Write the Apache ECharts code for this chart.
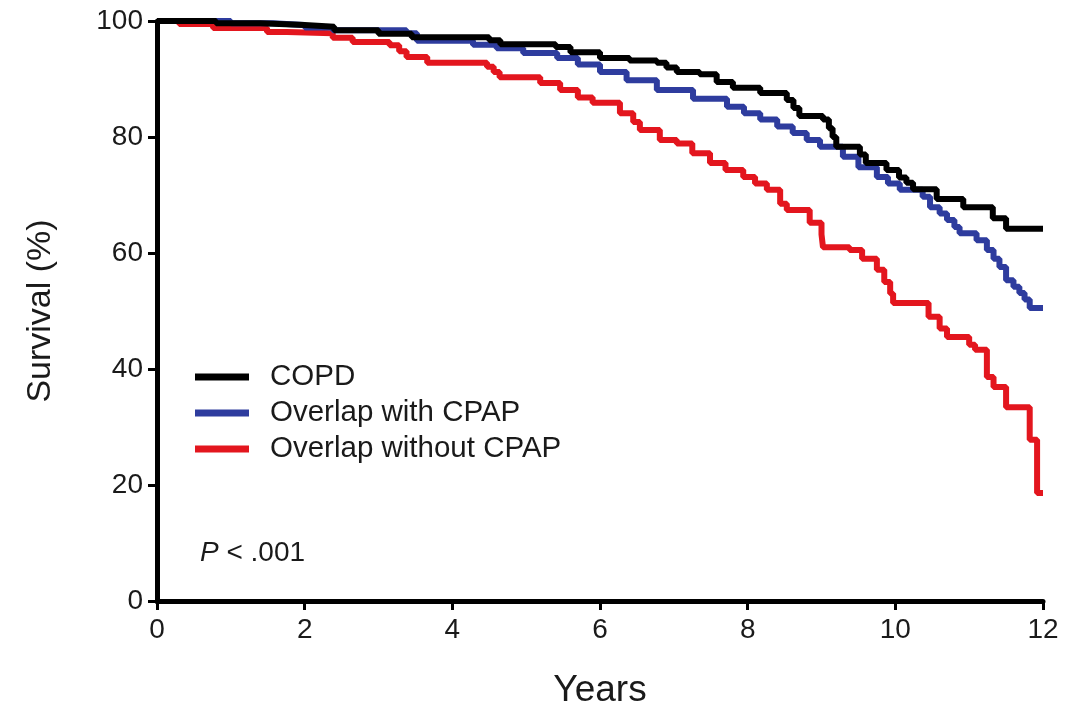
<!DOCTYPE html>
<html>
<head>
<meta charset="utf-8">
<script src="https://cdn.jsdelivr.net/npm/echarts@6/dist/echarts.min.js"></script>
<style>
html,body{margin:0;padding:0;background:#fff;}
#chart{width:1065px;height:707px;}
</style>
</head>
<body>
<div id="chart"></div>
<script>
// ---- Data ----
const seriesNames = ['COPD', 'Overlap with CPAP', 'Overlap without CPAP'];
const xTicks = [0, 2, 4, 6, 8, 10, 12];
const yTicks = [0, 20, 40, 60, 80, 100];

// [years, survival %] — Kaplan–Meier step points (drop happens at given time)
const copd = [
  [0,100],[0.8,99.6],[1.4,99.3],[2.0,99.0],[2.4,98.4],[3.0,97.8],[3.45,97.2],
  [4.5,96.7],[4.65,96.0],[5.4,95.5],[5.6,94.6],[6.0,93.6],[6.4,93.2],[6.77,92.8],
  [6.9,92.0],[7.04,91.2],[7.35,90.8],[7.58,89.5],[7.8,88.5],[8.17,87.6],[8.53,86.4],
  [8.62,85.0],[8.7,83.6],[9.02,83.0],[9.1,81.5],[9.15,80.0],[9.2,78.3],[9.52,77.0],[9.6,75.5],
  [9.88,74.3],[10.05,73.0],[10.15,72.1],[10.24,71.0],[10.56,69.3],[10.92,67.9],
  [11.32,66.0],[11.5,64.2],[12,64.2]
];
const overlapCpap = [
  [0,100],[1.0,99.6],[1.57,99.3],[2.0,98.9],[2.38,98.4],[3.38,97.9],[3.52,96.6],
  [4.28,95.9],[4.6,95.3],[4.96,94.5],[5.42,93.6],[5.7,92.5],[6.0,91.2],[6.36,89.8],
  [6.77,88.1],[7.26,86.6],[7.72,85.2],[7.95,84.1],[8.17,83.0],[8.4,81.8],[8.61,80.7],
  [8.8,79.5],[8.98,78.3],[9.29,76.6],[9.5,74.8],[9.75,73.1],[9.9,72.0],[10.06,70.9],
  [10.37,69.7],[10.47,67.9],[10.6,66.8],[10.7,65.7],[10.8,64.5],[10.87,63.4],[11.1,62.2],
  [11.24,60.5],[11.33,59.0],[11.41,57.6],[11.5,55.3],[11.6,54.2],[11.68,53.1],[11.75,52.0],
  [11.82,50.5],[12,50.5]
];
const overlapNoCpap = [
  [0,100],[0.3,99.5],[0.76,98.8],[1.49,98.1],[1.76,97.9],[2.38,97.1],[2.65,96.4],
  [3.15,95.8],[3.28,94.8],[3.38,93.8],[3.66,92.8],[4.47,92.1],[4.56,91.2],[4.64,90.3],
  [5.19,89.3],[5.46,88.1],[5.7,86.8],[5.9,85.9],[6.27,84.1],[6.45,82.6],[6.54,81.2],
  [6.81,79.5],[7.04,78.9],[7.25,77.2],[7.49,75.5],[7.7,74.3],[7.94,73.1],[8.1,72.0],
  [8.26,70.9],[8.44,68.5],[8.53,67.4],[8.84,65.2],[9.0,63.2],[9.02,61.0],[9.38,60.5],
  [9.55,59.0],[9.75,57.1],[9.85,55.0],[9.93,53.0],[9.97,51.4],[10.45,49.0],
  [10.6,47.0],[10.7,45.5],[11.0,44.2],[11.08,43.3],[11.24,38.6],[11.33,36.9],
  [11.5,33.4],[11.82,27.8],[11.92,18.6],[12,18.6]
];
const seriesData = [copd, overlapCpap, overlapNoCpap];
const colors = ['#000000', '#2E3C9E', '#E3161E'];

const font = '"Liberation Sans", Arial, Helvetica, sans-serif';
const chart = echarts.init(document.getElementById('chart'), null, {renderer: 'canvas'});

const option = {
  animation: false,
  backgroundColor: '#ffffff',
  color: colors,
  grid: {left: 157, right: 22, top: 21, bottom: 106, containLabel: false, outerBoundsMode: 'none'},
  legend: {
    orient: 'vertical',
    left: 195,
    top: 361,
    padding: 0,
    icon: 'rect',
    itemWidth: 54,
    itemHeight: 7,
    itemGap: 4,
    data: seriesNames,
    textStyle: {fontFamily: font, fontSize: 29.5, color: '#1a1a1a', lineHeight: 32, padding: [0, 0, 0, 16]}
  },
  xAxis: {
    type: 'value',
    min: 0, max: 12, interval: 2,
    name: 'Years',
    nameLocation: 'middle',
    nameGap: 71,
    nameTextStyle: {fontFamily: font, fontSize: 37, color: '#1a1a1a'},
    axisLine: {show: true, onZero: false, lineStyle: {color: '#000', width: 5}},
    axisTick: {show: true, length: 9, lineStyle: {color: '#000', width: 3}},
    axisLabel: {fontFamily: font, fontSize: 28, color: '#1a1a1a', margin: 15,
      formatter: v => xTicks.includes(v) ? String(v) : ''},
    splitLine: {show: false}
  },
  yAxis: {
    type: 'value',
    min: 0, max: 100, interval: 20,
    name: 'Survival (%)',
    nameLocation: 'middle',
    nameGap: 99,
    nameRotate: 90,
    nameTextStyle: {fontFamily: font, fontSize: 34, color: '#1a1a1a'},
    axisLine: {show: true, lineStyle: {color: '#000', width: 5}},
    axisTick: {show: true, length: 9, lineStyle: {color: '#000', width: 3}},
    axisLabel: {fontFamily: font, fontSize: 28, color: '#1a1a1a', margin: 14,
      formatter: v => yTicks.includes(v) ? String(v) : ''},
    splitLine: {show: false}
  },
  graphic: [{
    type: 'text',
    left: 200,
    top: 539,
    style: {
      text: '{i|P} < .001',
      rich: {i: {fontStyle: 'italic', fontFamily: font, fontSize: 28, fill: '#1a1a1a'}},
      font: '28px ' + font,
      fill: '#1a1a1a'
    }
  }],
  series: seriesNames.map((n, i) => ({
    name: n,
    type: 'line',
    step: 'end',
    data: seriesData[i],
    showSymbol: false,
    symbol: 'none',
    clip: false,
    z: 3 - i + 2,
    lineStyle: {color: colors[i], width: 6},
    itemStyle: {color: colors[i]}
  }))
};
chart.setOption(option);
</script>
</body>
</html>
